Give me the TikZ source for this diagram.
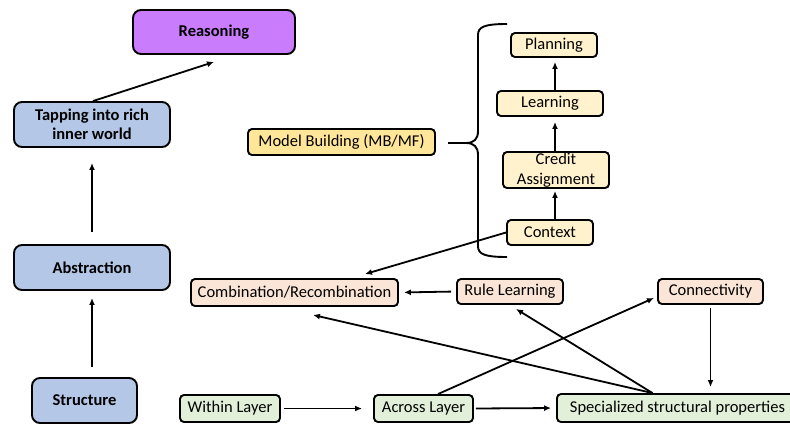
\documentclass[tikz,border=0pt]{standalone}
\usepackage{fontspec}
\setmainfont{Carlito}
\usetikzlibrary{arrows.meta}
\definecolor{cblue}{HTML}{B4C7E7}
\definecolor{cpurple}{HTML}{C97CFC}
\definecolor{cmodel}{HTML}{FFE699}
\definecolor{cyellow}{HTML}{FFF2CC}
\definecolor{cpeach}{HTML}{FBE5D6}
\definecolor{cgreen}{HTML}{E2F0D9}
\begin{document}
\begin{tikzpicture}[x=1pt,y=-1pt,
  base/.style={draw=black, line width=1.9pt, align=center, inner sep=0pt,
    font=\fontsize{16.5}{19.5}\selectfont},
  bigbox/.style={base, rounded corners=8pt, fill=cblue,
    font=\bfseries\fontsize{16.5}{18.5}\selectfont},
  smallbox/.style={base, rounded corners=4pt},
  arr/.style={line width=1.8pt, -{Latex[length=7pt,width=6pt]}},
  bracepath/.style={line width=1.9pt}
]
\useasboundingbox (0,0) rectangle (790,424);

% left column
\node[bigbox, fill=cpurple, minimum width=162pt, minimum height=44pt] (reason) at (214,32) {Reasoning};
\node[bigbox, minimum width=156pt, minimum height=45pt] (tap) at (92,124.5) {Tapping into rich\\inner world};
\node[bigbox, minimum width=156pt, minimum height=45pt] (abstr) at (92,267.5) {Abstraction};
\node[bigbox, minimum width=105pt, minimum height=45pt] (struct) at (84.5,400.5) {Structure};

% model building
\node[smallbox, fill=cmodel, minimum width=187pt, minimum height=26pt] (model) at (341.5,142) {Model Building (MB/MF)};
\node[smallbox, fill=cyellow, minimum width=86pt, minimum height=24pt] (plan) at (554,45) {Planning};
\node[smallbox, fill=cyellow, minimum width=106pt, minimum height=25pt] (learn) at (550,103.5) {Learning};
\node[smallbox, fill=cyellow, minimum width=106pt, minimum height=36pt] (cred) at (556,170) {Credit\\Assignment};
\node[smallbox, fill=cyellow, minimum width=86pt, minimum height=25pt] (ctx) at (550,232.5) {Context};

% middle row
\node[smallbox, fill=cpeach, minimum width=207pt, minimum height=27pt] (comb) at (294.5,292.5) {Combination/Recombination};
\node[smallbox, fill=cpeach, minimum width=106pt, minimum height=25pt] (rule) at (510,291.5) {Rule Learning};
\node[smallbox, fill=cpeach, minimum width=105pt, minimum height=25pt] (conn) at (710.5,291.5) {Connectivity};

% bottom row
\node[smallbox, fill=cgreen, minimum width=100pt, minimum height=27pt] (within) at (230,408.5) {Within Layer};
\node[smallbox, fill=cgreen, minimum width=99pt, minimum height=27pt] (across) at (423.5,408.5) {Across Layer};
\node[smallbox, fill=cgreen, minimum width=241pt, minimum height=28pt] (spec) at (677.5,408) {Specialized structural properties};

% brace
\draw[bracepath] (448,143) -- (466,143) .. controls (474,143) and (478,139) .. (478,131)
  -- (478,35) .. controls (478,27) and (484,24) .. (507,24);
\draw[bracepath] (466,143) .. controls (474,143) and (478,147) .. (478,155)
  -- (478,246) .. controls (478,254) and (484,257) .. (507,257);

% left column arrows
\draw[arr] ([xshift=1pt]tap.north) -- ([yshift=-7pt]reason.south);
\draw[arr, shorten <=12pt, shorten >=15pt] (abstr.north) -- (tap.south);
\draw[arr, shorten <=10pt, shorten >=7pt] (abstr.south |- struct.north) -- (abstr.south);

% column arrows
\draw[arr, shorten >=2pt] ([xshift=5pt]ctx.north) -- ([xshift=-1pt]cred.south);
\draw[arr, shorten >=5pt] ([xshift=-1pt]cred.north) -- ([xshift=5pt]learn.south);
\draw[arr, shorten >=4pt] ([xshift=5pt]learn.north) -- ([xshift=1pt]plan.south);

% cross arrows
\draw[arr] (ctx.west) -- ([xshift=70.5pt,yshift=4pt]comb.north);
\draw[arr, shorten <=5pt, shorten >=5pt] (rule.west) -- (comb.east);
\draw[arr] ([xshift=-25pt]spec.north) -- ([xshift=18.5pt,yshift=-8pt]comb.south);
\draw[arr] ([xshift=-25pt]spec.north) -- ([xshift=6pt,yshift=-4pt]rule.south);
\draw[arr] ([xshift=14.5pt]across.north) -- ([xshift=-3pt,yshift=7pt]conn.south west);
\draw[arr, shorten <=3pt, shorten >=6pt] (conn.south) -- (conn.south |- spec.north);
\draw[arr, shorten <=3pt, shorten >=11pt] (within.east) -- (across.west);
\draw[arr, shorten <=2pt, shorten >=5pt] (across.east) -- (spec.west);
\end{tikzpicture}
\end{document}
